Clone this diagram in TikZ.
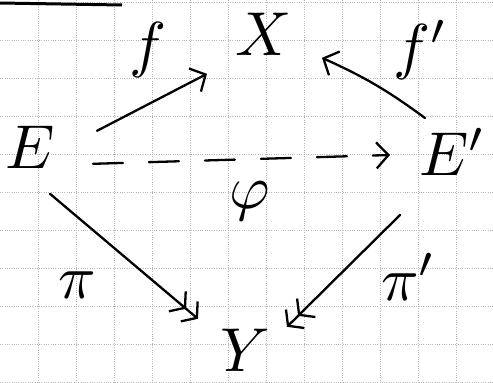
\documentclass[tikz,border=0pt]{standalone}
\usetikzlibrary{arrows.meta,calc}
\begin{document}
\begin{tikzpicture}[x=1pt,y=-1pt,
  gridline/.style={gray!55, line width=0.5pt, dash pattern=on 1pt off 1.3pt},
  lbl/.style={scale=6.2, inner sep=0pt},
  ink/.style={line width=2.3pt, line cap=round},
  hd/.style={-{Straight Barb[length=12pt,width=26pt]}},
  twohd/.style={-{Straight Barb[length=10pt,width=26pt,sep=3pt]Straight Barb[length=10pt,width=26pt]}},
  dsh/.style={dash pattern=on 30pt off 26pt}]
\useasboundingbox (0,0) rectangle (493,383);
\fill[white] (0,0) rectangle (493,383);
\foreach \x in {38,76,...,456} \draw[gridline] (\x,0) -- (\x,383);
\foreach \y in {2,40,...,382} \draw[gridline] (0,\y) -- (493,\y);
\draw[line width=3pt] (0,3) -- (122,5);
% objects
\node[lbl, anchor=base] (E) at (30,168) {$E$};
\node[lbl, anchor=base west] (Ep) at (418,175) {$E'$};
\node[lbl, anchor=base] (X) at (264,55) {$X$};
\node[lbl, anchor=base] (Y) at (245,371) {$Y$};
% labels
\node[lbl] (f) at (148,50) {$f$};
\node[lbl, anchor=base west] (fp) at (392,67) {$f'$};
\node[lbl] (phi) at (250,201) {$\varphi$};
\node[lbl, anchor=base] (pi) at (77,298) {$\pi$};
\node[lbl, anchor=base west] (pip) at (380,300) {$\pi'$};
% arrows
\draw[ink,hd] ($(E)+(67,-16)$) -- ($(X)+(-57,40)$);
\draw[ink,hd] ($(Ep.base west)+(7,-57)$) to[bend right=6] ($(X)+(58,24)$);
\draw[ink,hd,dsh] ($(E)+(63,17)$) -- ($(Ep.base west)+(-28,-20)$);
\draw[ink,twohd] ($(E)+(20,47)$) -- ($(Y)+(-47,-31)$);
\draw[ink,twohd] ($(Ep.base west)+(-18,40)$) -- ($(Y)+(42,-23)$);
\end{tikzpicture}
\end{document}
